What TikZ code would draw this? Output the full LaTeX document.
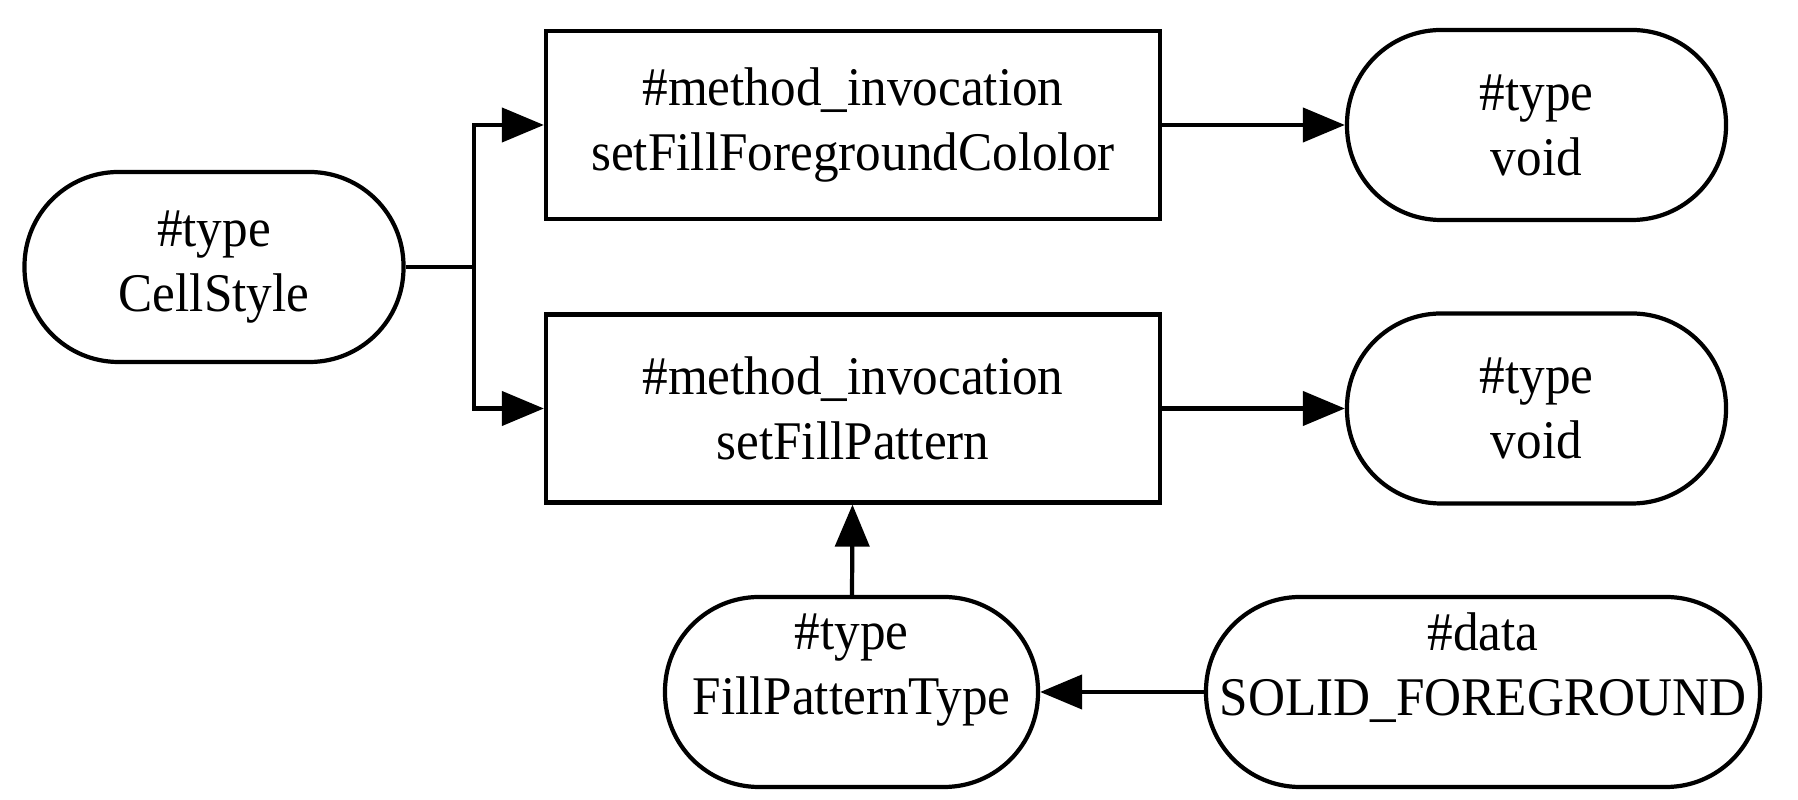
\documentclass[tikz,border=0pt]{standalone}
\usepackage{fontspec}
\setmainfont[FakeStretch=0.94]{Liberation Serif}
\usetikzlibrary{arrows.meta}

\begin{document}
\begin{tikzpicture}[
    term/.style={draw, line width=1.2pt, rounded corners=0.94cm, minimum height=1.9cm,
      inner sep=0pt, align=center, font=\fontsize{15.5}{18.5}\selectfont},
    call/.style={draw, line width=1.2pt, minimum width=6.14cm, minimum height=1.88cm,
      inner sep=0pt, align=center, font=\fontsize{15.5}{18.5}\selectfont},
    lifted/.style={text depth=0.55cm},
    flow/.style={line width=1.2pt, -{Triangle[length=0.42cm,width=0.34cm]}},
  ]
  \useasboundingbox (0,0) rectangle (17.98,8);

  % types and method calls
  \node[term, minimum width=3.79cm] (cellstyle) at (2.14,5.33) {\#type\\CellStyle};
  \node[call] (setcolor) at (8.53,6.75) {\#method\_invocation\\setFillForegroundCololor};
  \node[call] (setpattern) at (8.53,3.915) {\#method\_invocation\\setFillPattern};
  \node[term, minimum width=3.79cm] (voidA) at (15.365,6.75) {\#type\\void};
  \node[term, minimum width=3.79cm] (voidB) at (15.365,3.915) {\#type\\void};
  \node[term, lifted, minimum width=3.73cm] (patterntype) at (8.515,1.08) {\#type\\FillPatternType};
  \node[term, lifted, minimum width=5.54cm] (solid) at (14.83,1.08) {\#data\\SOLID\_FOREGROUND};

  % receiver splits to both calls
  \coordinate (fork) at (4.74,5.33);
  \draw[line width=1.2pt] (cellstyle.east) -- (fork);
  \draw[flow] (fork) |- (setcolor.west);
  \draw[flow] (fork) |- (setpattern.west);

  % return values
  \draw[flow] (setcolor) -- (voidA);
  \draw[flow] (setpattern) -- (voidB);

  % argument chain
  \draw[flow] (solid) -- (patterntype);
  \draw[flow] (patterntype) -- (setpattern);
\end{tikzpicture}
\end{document}
